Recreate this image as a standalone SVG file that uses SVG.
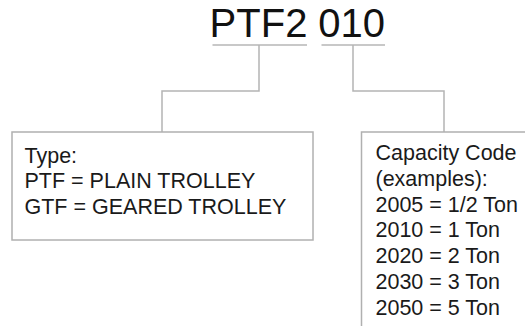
<svg xmlns="http://www.w3.org/2000/svg" width="525" height="326" viewBox="0 0 525 326">
<style>
.title{font-family:"Liberation Sans",Arial,sans-serif;font-size:40px;fill:#111;}
.t{font-family:"Liberation Sans",Arial,sans-serif;font-size:21.5px;fill:#1a1a1a;}
.ul{stroke:#c8c8c8;stroke-width:2;fill:none;}
.conn{stroke:#b4b4b4;stroke-width:1.5;fill:none;}
.box{stroke:#b0b0b0;stroke-width:1.5;fill:#fff;}
</style>
<rect width="525" height="326" fill="#fff"/>
<g id="code">
<text class="title" x="209.6" y="37">PTF2</text>
<text class="title" x="318.3" y="37">010</text>
<line class="ul" x1="212.5" y1="45" x2="307" y2="45"/>
<line class="ul" x1="321.5" y1="45" x2="385" y2="45"/>
</g>
<g id="connectors">
<polyline class="conn" points="259,45 259,91 162,91 162,132"/>
<polyline class="conn" points="353,45 353,91 444,91 444,132"/>
</g>
<g id="type-box">
<rect class="box" x="12" y="132" width="301" height="108"/>
<text class="t" x="24.5" y="162.5">Type:</text>
<text class="t" x="24.5" y="188.3">PTF = PLAIN TROLLEY</text>
<text class="t" x="24.5" y="214">GTF = GEARED TROLLEY</text>
</g>
<g id="capacity-box">
<rect class="box" x="361.5" y="132" width="180" height="210"/>
<text class="t" x="375.5" y="160">Capacity Code</text>
<text class="t" x="375.5" y="185.8">(examples):</text>
<text class="t" x="375.5" y="211.6">2005 = 1/2 Ton</text>
<text class="t" x="375.5" y="237.4">2010 = 1 Ton</text>
<text class="t" x="375.5" y="263.2">2020 = 2 Ton</text>
<text class="t" x="375.5" y="289">2030 = 3 Ton</text>
<text class="t" x="375.5" y="314.8">2050 = 5 Ton</text>
</g>
</svg>
